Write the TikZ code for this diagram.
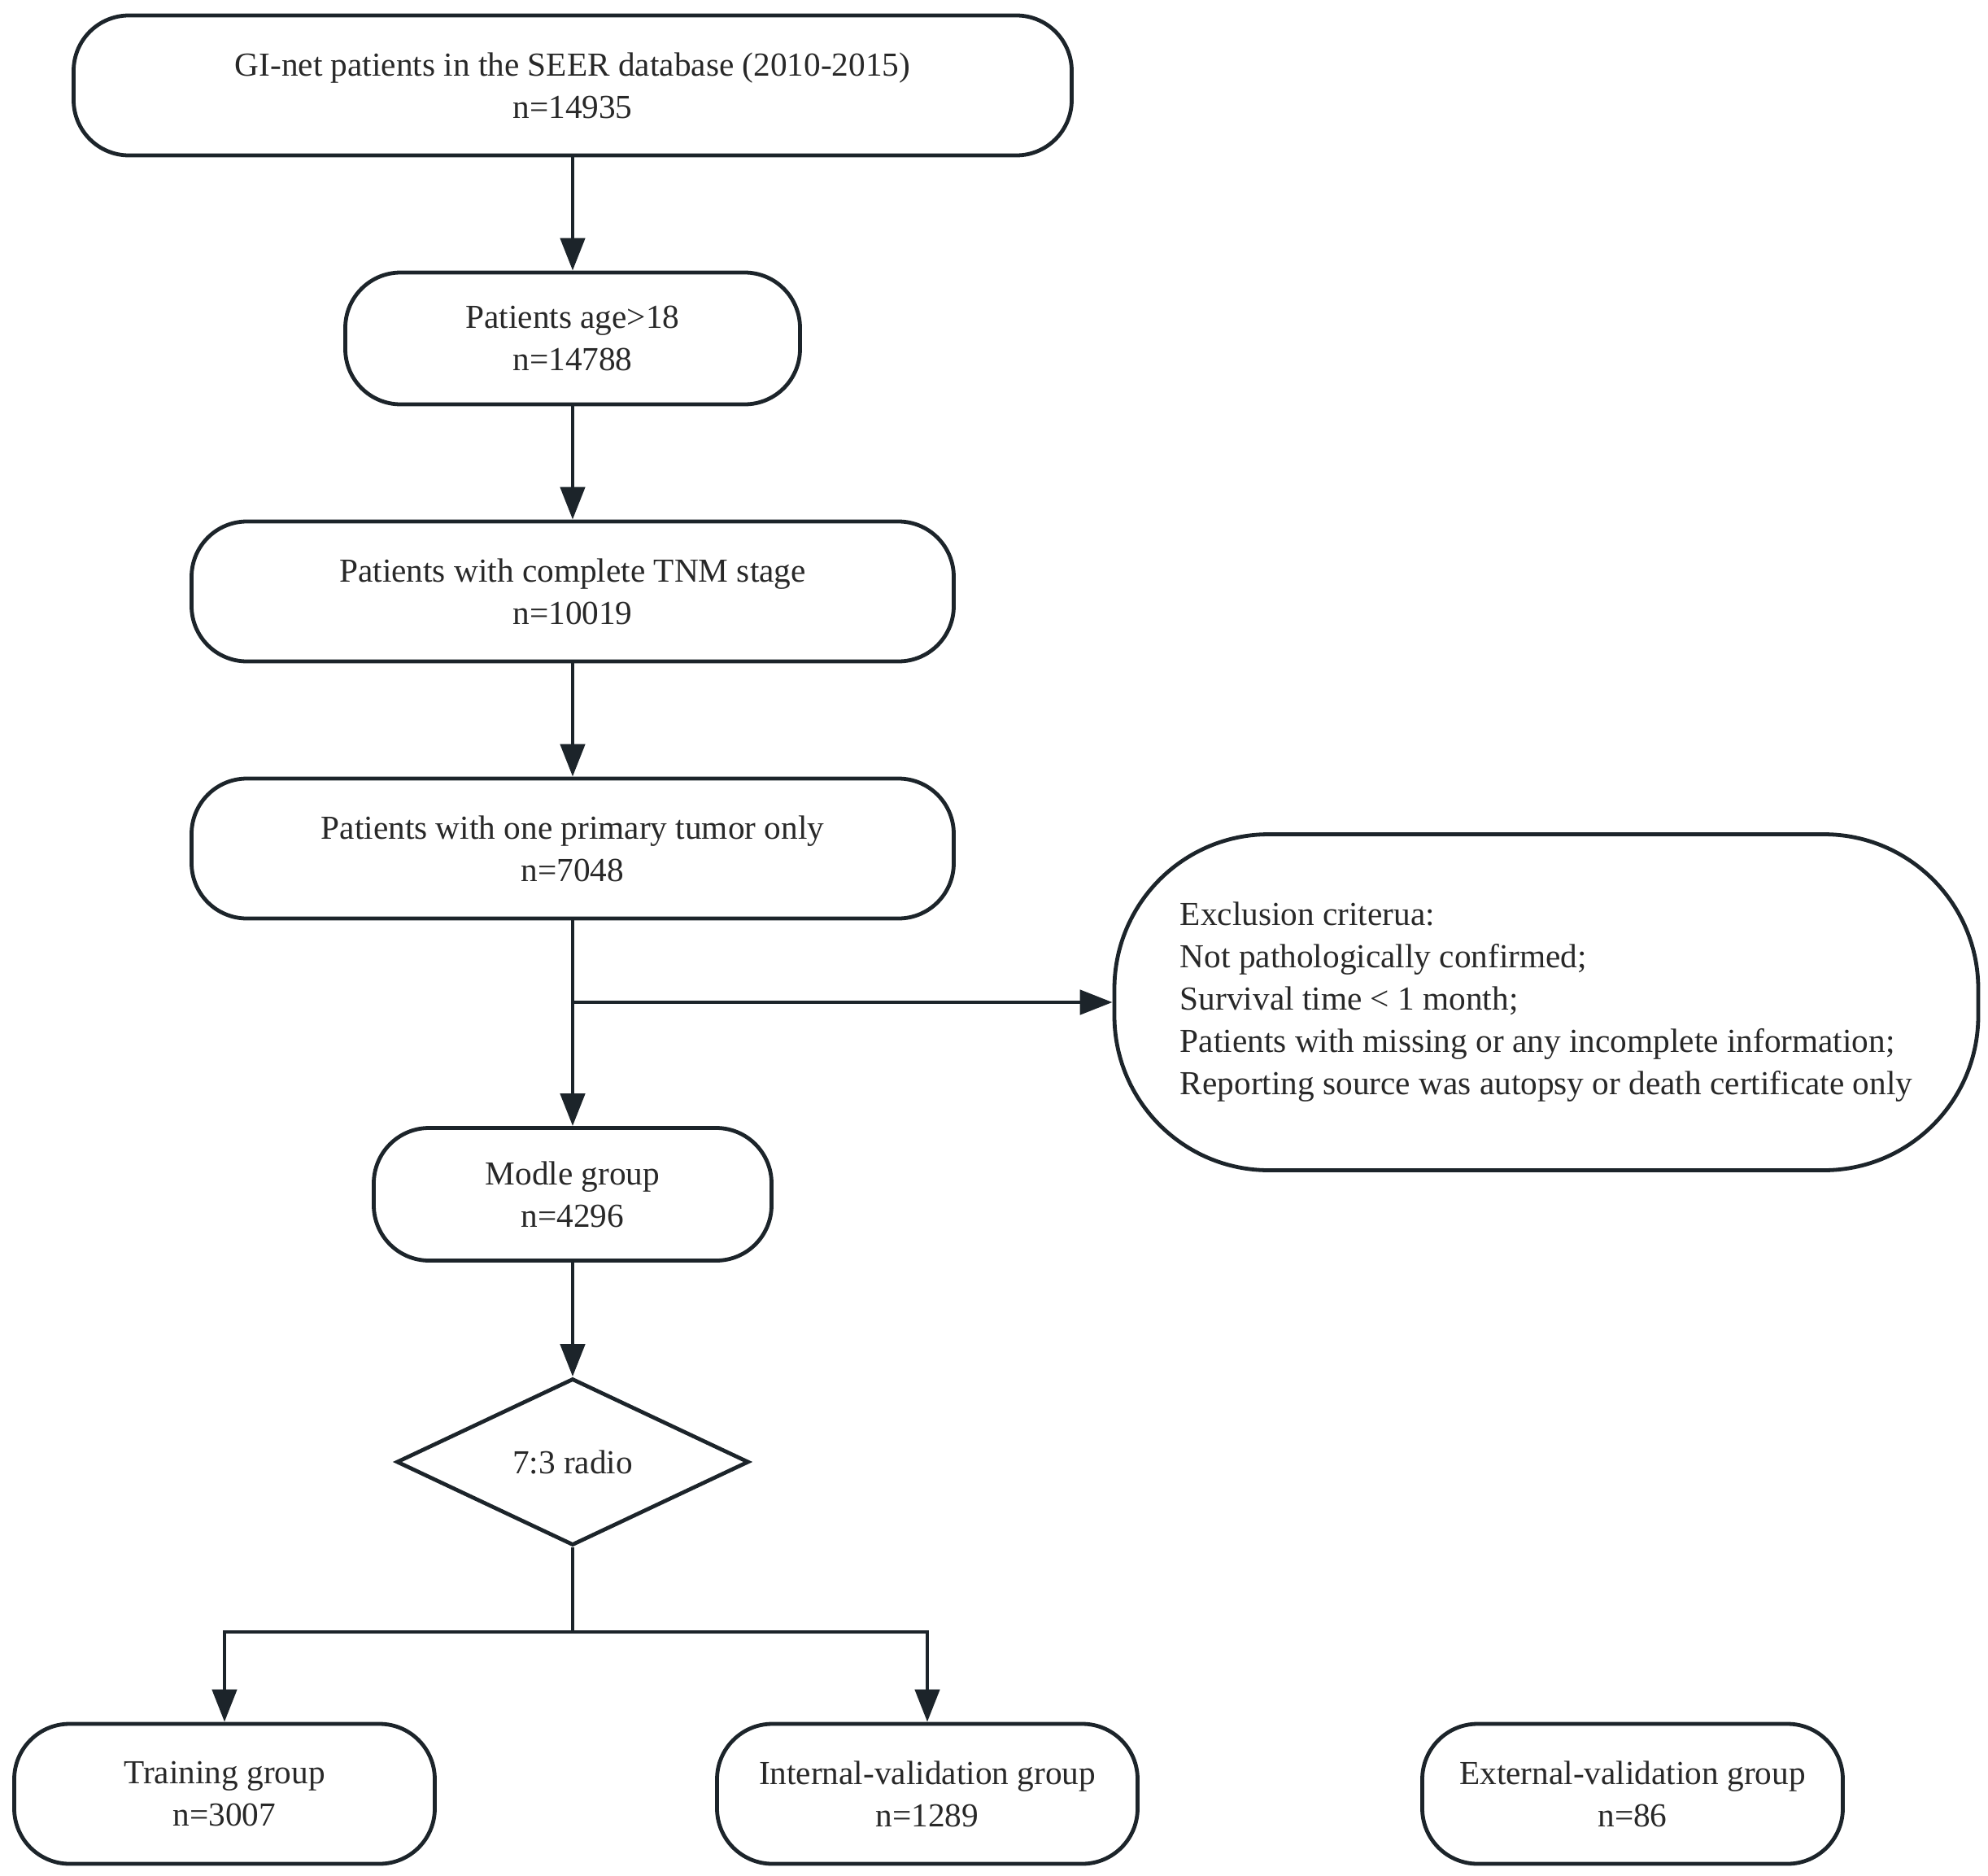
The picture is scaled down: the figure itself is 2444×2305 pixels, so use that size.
\documentclass[tikz,border=0pt]{standalone}
\usepackage{fontspec}
\setmainfont{Liberation Serif}
\usetikzlibrary{shapes.geometric,arrows.meta}
\definecolor{ink}{RGB}{28,36,42}
\definecolor{txt}{RGB}{40,40,40}
\begin{document}
\begin{tikzpicture}[x=1pt,y=-1pt,
  box/.style={draw=ink,line width=4.8pt,rounded corners=68pt,inner sep=0pt,align=center,text=txt,
    font=\fontsize{41.3}{52}\selectfont},
  arr/.style={draw=ink,line width=4.8pt,-{Triangle[length=40pt,width=30pt]}},
  ln/.style={draw=ink,line width=4.8pt}]
\useasboundingbox (0,0) rectangle (2444,2305);
\node[box,minimum width=1227pt,minimum height=172pt] (b1) at (704,105) {GI-net patients in the SEER database (2010-2015)\\n=14935};
\node[box,minimum width=559pt,minimum height=162pt] (b2) at (704,416) {Patients age>18\\n=14788};
\node[box,minimum width=937pt,minimum height=172pt] (b3) at (704,727) {Patients with complete TNM stage\\n=10019};
\node[box,minimum width=937pt,minimum height=172pt] (b4) at (704,1043) {Patients with one primary tumor only\\n=7048};
\node[box,rounded corners=190pt,align=left,minimum width=1062pt,minimum height=413pt] (ex) at (1901,1232)
  {Exclusion criterua:\\Not pathologically confirmed;\\Survival time < 1 month;\\Patients with missing or any incomplete information;\\Reporting source was autopsy or death certificate only};
\node[box,minimum width=489pt,minimum height=163pt] (mg) at (704,1468) {Modle group\\n=4296};
\node[draw=ink,line width=4.8pt,diamond,inner sep=0pt,minimum width=433pt,minimum height=205pt,aspect=2.1,text=txt,
  font=\fontsize{41.3}{52}\selectfont] (dia) at (704,1797) {7:3 radio};
\node[box,minimum width=517pt,minimum height=172pt] (tr) at (276,2205) {Training group\\n=3007};
\node[box,minimum width=517pt,minimum height=172pt] (iv) at (1140,2205) {Internal-validation group\\n=1289};
\node[box,minimum width=517pt,minimum height=172pt] (ev) at (2007,2205) {External-validation group\\n=86};
\coordinate (j) at (b4.south |- ex.west);
\coordinate (sp) at (704,2006);
\draw[arr] (b1) -- (b2);
\draw[arr] (b2) -- (b3);
\draw[arr] (b3) -- (b4);
\draw[arr] (b4) -- (mg);
\draw[arr] (j) -- (ex.west);
\draw[arr] (mg) -- (dia);
\draw[ln] (dia.south) -- (sp);
\draw[arr] (sp) -| (tr.north);
\draw[arr] (sp) -| (iv.north);
\end{tikzpicture}
\end{document}
